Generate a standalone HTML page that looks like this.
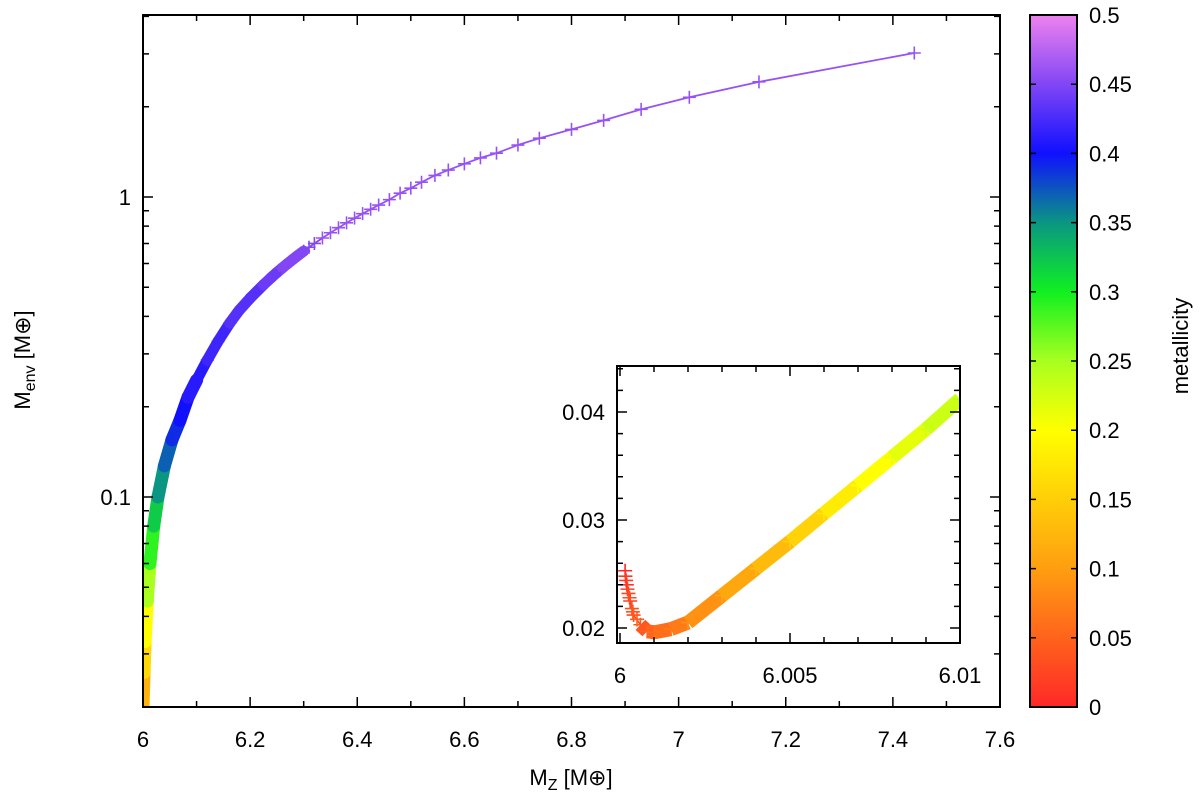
<!DOCTYPE html>
<html><head><meta charset="utf-8"><style>
body{margin:0;background:#fff;}
svg{display:block;font-family:"Liberation Sans",sans-serif;}
</style></head><body>
<svg id="chart" width="1200" height="799"></svg>
<script>
const mainMz=[6.0,6.002,6.004,6.008,6.013,6.02,6.028,6.04,6.054,6.069,6.084,6.10,6.12,6.14,6.162,6.18,6.2,6.225,6.24,6.25,6.26,6.27,6.28,6.29,6.30,6.31,6.32,6.335,6.35,6.365,6.38,6.395,6.41,6.425,6.44,6.46,6.48,6.50,6.52,6.545,6.57,6.60,6.63,6.66,6.70,6.74,6.80,6.86,6.93,7.02,7.15,7.44];
const mainMenv=[0.020,0.026,0.033,0.045,0.060,0.080,0.10,0.127,0.155,0.18,0.215,0.245,0.286,0.33,0.38,0.42,0.46,0.51,0.54,0.56,0.58,0.60,0.62,0.64,0.66,0.68,0.70,0.73,0.76,0.79,0.82,0.85,0.88,0.91,0.94,0.98,1.03,1.07,1.12,1.18,1.23,1.29,1.35,1.40,1.49,1.57,1.68,1.80,1.96,2.15,2.42,3.02];
const mainZ=[0.12,0.16,0.20,0.25,0.29,0.32,0.35,0.37,0.39,0.40,0.41,0.41,0.42,0.42,0.43,0.43,0.43,0.44,0.44,0.44,0.45,0.45,0.45,0.45,0.45,0.45,0.45,0.46,0.46,0.46,0.46,0.46,0.46,0.46,0.46,0.46,0.46,0.46,0.46,0.46,0.46,0.46,0.46,0.46,0.46,0.46,0.46,0.46,0.46,0.46,0.46,0.46];
const insetMz=[6.00015,6.0002,6.0003,6.0004,6.0006,6.0008,6.001,6.0015,6.002,6.003,6.004,6.005,6.006,6.007,6.008,6.009,6.010];
const insetMenv=[0.0253,0.0240,0.0225,0.0212,0.0203,0.0197,0.0196,0.0199,0.0205,0.0230,0.0255,0.0280,0.0306,0.0332,0.0358,0.0384,0.0412];
const insetZ=[0,0.01,0.02,0.03,0.04,0.05,0.06,0.07,0.09,0.11,0.13,0.155,0.18,0.20,0.215,0.23,0.245];
const xTicks=[6,6.2,6.4,6.6,6.8,7,7.2,7.4,7.6];
const xTickLabels=["6","6.2","6.4","6.6","6.8","7","7.2","7.4","7.6"];
const yTicks=[0.1,1];
const yTickLabels=["0.1","1"];
const cbTicks=[0,0.05,0.1,0.15,0.2,0.25,0.3,0.35,0.4,0.45,0.5];
const cbTickLabels=["0","0.05","0.1","0.15","0.2","0.25","0.3","0.35","0.4","0.45","0.5"];
const insetXTicks=[6,6.005,6.01];
const insetXTickLabels=["6","6.005","6.01"];
const insetYTicks=[0.02,0.03,0.04];
const insetYTickLabels=["0.02","0.03","0.04"];

const NS="http://www.w3.org/2000/svg";
const svg=document.getElementById('chart');
function mk(tag,attrs,parent){const e=document.createElementNS(NS,tag);for(const k in attrs)e.setAttribute(k,attrs[k]);(parent||svg).appendChild(e);return e;}
const P={l:143,r:1000,t:15,b:707};
const xs=v=>P.l+(v-6)/(1.6)*(P.r-P.l);
const ys=v=>197-Math.log10(v)*300;
const I={l:617,r:960,t:366,b:643};
const ixs=v=>620+(v-6)/0.01*340;
const iys=v=>628-(v-0.02)/0.01*108;
const C={l:1030,r:1077,t:15,b:707};
const cs=v=>C.b-v/0.5*(C.b-C.t);
const stops=[[0,[255,40,40]],[0.1,[255,158,16]],[0.2,[255,255,0]],[0.25,[168,255,32]],[0.3,[16,240,32]],[0.35,[10,150,130]],[0.4,[16,16,255]],[0.45,[130,70,245]],[0.5,[238,130,238]]];
function col(z){for(let i=0;i<stops.length-1;i++){const a=stops[i],b=stops[i+1];if(z<=b[0]){const t=(z-a[0])/(b[0]-a[0]);const c=a[1].map((v,j)=>Math.round(v+(b[1][j]-v)*t));return `rgb(${c})`;}}return 'rgb(238,130,238)';}
function plus(g,x,y,c,s){mk('path',{d:`M${x-s} ${y}H${x+s}M${x} ${y-s}V${y+s}`,stroke:c,'stroke-width':1.6,fill:'none'},g);}

const cp=mk('clipPath',{id:'mc'});
mk('rect',{x:P.l,y:P.t,width:P.r-P.l,height:P.b-P.t},cp);
const gm=mk('g',{'clip-path':'url(#mc)'});


for(let i=0;i<mainMz.length-1;i++){
  const dense=mainMz[i+1]<=6.30;
  const w=dense?(mainMz[i]<6.1?13:11):1.8;
  mk('line',{x1:xs(mainMz[i]),y1:ys(mainMenv[i]),x2:xs(mainMz[i+1]),y2:ys(mainMenv[i+1]),stroke:col(mainZ[i]),'stroke-width':w,'stroke-linecap':dense?'round':'butt'},gm);
}
for(let i=0;i<mainMz.length;i++)plus(gm,xs(mainMz[i]),ys(mainMenv[i]),col(mainZ[i]),6.5);

mk('rect',{x:P.l,y:P.t,width:P.r-P.l,height:P.b-P.t,fill:'none',stroke:'#000','stroke-width':2,});
for(let k=0;k<=16;k++){const x=xs(6+k*0.1);const L=(k%2===0)?10:6;
  mk('path',{d:`M${x} ${P.b}v${-L}M${x} ${P.t}v${L}`,stroke:'#000','stroke-width':1.5});}
xTicks.forEach((v,i)=>{const t=mk('text',{x:xs(v),y:P.b+40,'text-anchor':'middle','font-size':22});t.textContent=xTickLabels[i];});
[0.02,0.03,0.04,0.05,0.06,0.07,0.08,0.09,0.1,0.2,0.3,0.4,0.5,0.6,0.7,0.8,0.9,1,2,3,4].forEach(v=>{const y=ys(v);const major=(v===0.1||v===1);const L=major?10:6;
  mk('path',{d:`M${P.l} ${y}h${L}M${P.r} ${y}h${-L}`,stroke:'#000','stroke-width':1.5});});
yTicks.forEach((v,i)=>{const t=mk('text',{x:P.l-12,y:ys(v)+8,'text-anchor':'end','font-size':22});t.textContent=yTickLabels[i];});
const xt=mk('text',{x:571,y:785,'text-anchor':'middle','font-size':22});

xt.innerHTML='M<tspan font-size="16" dy="5">Z</tspan><tspan dy="-5"> [M⊕]</tspan>';
const yt=mk('text',{x:0,y:0,'text-anchor':'middle','font-size':22,transform:'translate(30,360) rotate(-90)'});

yt.innerHTML='M<tspan font-size="16" dy="5">env</tspan><tspan dy="-5"> [M⊕]</tspan>';

const gi=mk('g',{});


mk('rect',{x:I.l,y:I.t,width:I.r-I.l,height:I.b-I.t,fill:'#fff',stroke:'none'},gi);
const cp2=mk('clipPath',{id:'ic'});
mk('rect',{x:I.l,y:I.t,width:I.r-I.l,height:I.b-I.t},cp2);
const gis=mk('g',{'clip-path':'url(#ic)'},gi);
for(let i=0;i<insetMz.length-1;i++){
  const dense=insetMz[i]>=6.0006;
  mk('line',{x1:ixs(insetMz[i]),y1:iys(insetMenv[i]),x2:ixs(insetMz[i+1]),y2:iys(insetMenv[i+1]),stroke:col(insetZ[i]),'stroke-width':dense?14:1.5,'stroke-linecap':'butt'},gis);
}
for(let i=0;i<insetMz.length;i++)plus(gis,ixs(insetMz[i]),iys(insetMenv[i]),col(insetZ[i]),7);
const ex=[6.00016,6.00018,6.00022,6.00025,6.00028,6.00035,6.00038,6.0005];
const extra=[0.0248,0.0244,0.0236,0.0232,0.0228,0.0218,0.0215,0.0208];
extra.forEach((v,i)=>plus(gis,ixs(ex[i]),iys(v),col(0.01+i*0.005),7));
mk('rect',{x:I.l,y:I.t,width:I.r-I.l,height:I.b-I.t,fill:'none',stroke:'#000','stroke-width':2},gi);
for(let k=0;k<=10;k++){const x=ixs(6+k*0.001);const L=(k%5===0)?10:6;mk('path',{d:`M${x} ${I.b}v${-L}M${x} ${I.t}v${L}`,stroke:'#000','stroke-width':1.5},gi);}
for(let k=0;k<=13;k++){const v=0.018+k*0.002;const y=iys(v);if(y<I.t||y>I.b)continue;const L=(k%5===1)?10:6;mk('path',{d:`M${I.l} ${y}h${L}M${I.r} ${y}h${-L}`,stroke:'#000','stroke-width':1.5},gi);}
insetXTicks.forEach((v,i)=>{const t=mk('text',{x:ixs(v),y:I.b+40,'text-anchor':'middle','font-size':22},gi);t.textContent=insetXTickLabels[i];});
insetYTicks.forEach((v,i)=>{const t=mk('text',{x:I.l-12,y:iys(v)+8,'text-anchor':'end','font-size':22},gi);t.textContent=insetYTickLabels[i];});

const defs=mk('defs',{});
const lg=mk('linearGradient',{id:'cg',x1:0,y1:1,x2:0,y2:0},defs);
stops.forEach(s=>mk('stop',{offset:s[0]/0.5,'stop-color':`rgb(${s[1]})`},lg));
const cb=mk('rect',{x:C.l,y:C.t,width:C.r-C.l,height:C.b-C.t,fill:'url(#cg)',stroke:'#000','stroke-width':2});

cbTicks.forEach((v,i)=>{const y=cs(v);mk('path',{d:`M${C.l} ${y}h6M${C.r} ${y}h-6`,stroke:'#000','stroke-width':1.5});
  const t=mk('text',{x:C.r+12,y:y+8,'font-size':22});t.textContent=cbTickLabels[i];});
const ct=mk('text',{x:0,y:0,'text-anchor':'middle','font-size':22,transform:'translate(1188,346) rotate(-90)'});
ct.textContent='metallicity';
</script>
</body></html>
